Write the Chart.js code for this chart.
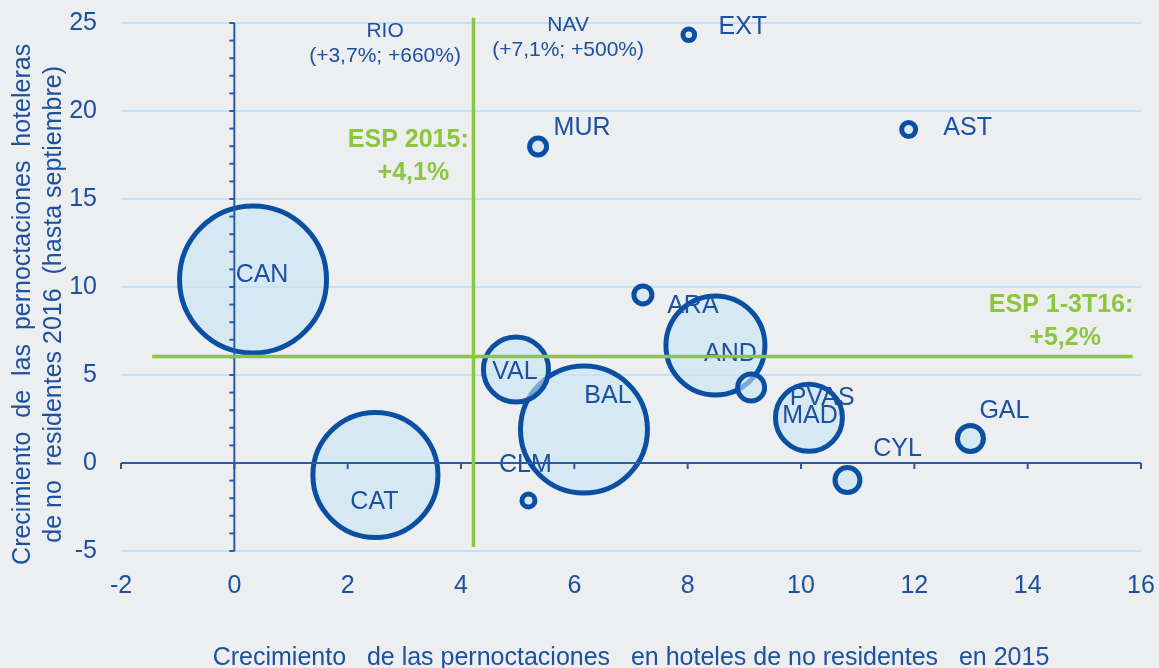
<!DOCTYPE html>
<html>
<head>
<meta charset="utf-8">
<script src="https://cdn.jsdelivr.net/npm/chart.js@4/dist/chart.umd.min.js"></script>
<style>
  html, body { margin: 0; padding: 0; background: #eceef0; }
  canvas { display: block; }
</style>
</head>
<body>
<canvas id="grafico" width="1159" height="668"></canvas>
<script>
// datos
const regiones = ['CAN', 'CAT', 'BAL', 'VAL', 'AND', 'PVAS', 'MAD', 'ARA', 'GAL', 'CYL', 'CLM', 'MUR', 'EXT', 'AST'];
const crec2015 = [0.33, 2.49, 6.17, 4.97, 8.49, 9.12, 10.14, 7.21, 12.99, 10.82, 5.19, 5.36, 8.02, 11.9];
const crec2016 = [10.43, -0.68, 1.9, 5.31, 6.68, 4.29, 2.57, 9.55, 1.39, -0.97, -2.13, 17.98, 24.33, 18.95];
const peso = [54.0, 39.1, 40.3, 10.6, 24.5, 1.82, 11.2, 0.81, 1.69, 1.56, 0.42, 0.72, 0.34, 0.49];
const ticksX = [-2, 0, 2, 4, 6, 8, 10, 12, 14, 16];
const ticksY = [-5, 0, 5, 10, 15, 20, 25];
const espanaX = 4.22;   // media España 2015
const espanaY = 6.05;   // media España 1-3T16
const fueraEscala = [
  { txt: ['RIO', '(+3,7%; +660%)'], x: 2.66, y: 24.55 },
  { txt: ['NAV', '(+7,1%; +500%)'], x: 5.89, y: 24.9 }
];

const AZUL = '#1c50a0';
const VERDE = '#8cc63f';
const FUENTE = '"Liberation Sans", Arial, sans-serif';

// desplazamiento de cada etiqueta respecto a su burbuja (px)
const desplaz = {
  CAN: [9, -4], CAT: [-1, 27], VAL: [-1, 3], BAL: [24, -33], AND: [15, 9],
  ARA: [50, 11], PVAS: [71, 11], MAD: [1, -2], GAL: [34, -27], CYL: [50, -31],
  CLM: [-3, -35], MUR: [44, -18], EXT: [54, -8], AST: [59, -1]
};

const ejes = {
  id: 'ejes',
  afterDatasetsDraw(chart) {
    const { ctx, scales: { x, y } } = chart;
    const x0 = x.getPixelForValue(0), y0 = y.getPixelForValue(0);
    const linea = (a, b, c, d) => { ctx.beginPath(); ctx.moveTo(a, b); ctx.lineTo(c, d); ctx.stroke(); };
    ctx.save();
    ctx.strokeStyle = '#2a5ca8';
    ctx.lineWidth = 2;
    linea(x.getPixelForValue(ticksX[0]), y0, x.getPixelForValue(ticksX[ticksX.length - 1]), y0);
    ticksX.forEach(v => { const p = x.getPixelForValue(v); linea(p, y0, p, y0 + 6); });
    linea(x0, y.getPixelForValue(ticksY[0]), x0, y.getPixelForValue(ticksY[ticksY.length - 1]));
    for (let v = ticksY[0]; v <= ticksY[ticksY.length - 1]; v++) {
      const p = y.getPixelForValue(v);
      linea(x0 - 5, p, x0, p);
    }
    // etiquetas de las burbujas
    ctx.fillStyle = AZUL;
    ctx.font = '25px ' + FUENTE;
    ctx.textAlign = 'center';
    ctx.textBaseline = 'middle';
    chart.getDatasetMeta(0).data.forEach((el, i) => {
      const d = desplaz[regiones[i]];
      ctx.fillText(regiones[i], el.x + d[0], el.y + d[1]);
    });
    ctx.font = '21px ' + FUENTE;
    fueraEscala.forEach(f => {
      const px = x.getPixelForValue(f.x), py = y.getPixelForValue(f.y);
      ctx.fillText(f.txt[0], px, py);
      ctx.fillText(f.txt[1], px, py + 25);
    });
    ctx.restore();
  },
  afterDraw(chart) {
    const { ctx, scales: { x, y } } = chart;
    ctx.save();
    ctx.strokeStyle = VERDE;
    ctx.lineWidth = 3.5;
    ctx.beginPath();
    ctx.moveTo(x.getPixelForValue(-1.45), y.getPixelForValue(espanaY));
    ctx.lineTo(x.getPixelForValue(15.85), y.getPixelForValue(espanaY));
    ctx.moveTo(x.getPixelForValue(espanaX), y.getPixelForValue(25.3));
    ctx.lineTo(x.getPixelForValue(espanaX), y.getPixelForValue(-4.77));
    ctx.stroke();
    ctx.fillStyle = VERDE;
    ctx.font = 'bold 25px ' + FUENTE;
    ctx.textAlign = 'center';
    ctx.textBaseline = 'middle';
    ctx.fillText('ESP 2015:', x.getPixelForValue(3.07), y.getPixelForValue(18.35));
    ctx.fillText('+4,1%', x.getPixelForValue(3.16), y.getPixelForValue(16.48));
    ctx.fillText('ESP 1-3T16:', x.getPixelForValue(14.59), y.getPixelForValue(8.98));
    ctx.fillText('+5,2%', x.getPixelForValue(14.66), y.getPixelForValue(7.1));
    ctx.restore();
  }
};

new Chart(document.getElementById('grafico'), {
  type: 'bubble',
  data: {
    datasets: [{
      data: regiones.map((r, i) => ({ x: crec2015[i], y: crec2016[i], r: 10 * Math.sqrt(peso[i]) })),
      backgroundColor: 'rgba(200, 228, 243, 0.6)',
      borderColor: '#0b4fa3',
      borderWidth: 5,
      hoverBorderWidth: 5,
      clip: false
    }]
  },
  options: {
    responsive: false,
    animation: false,
    layout: { autoPadding: false, padding: { top: 23, right: 18, bottom: 0, left: 0 } },
    plugins: { legend: { display: false }, tooltip: { enabled: false } },
    scales: {
      x: {
        type: 'linear', min: ticksX[0], max: ticksX[ticksX.length - 1],
        afterBuildTicks: s => { s.ticks = ticksX.map(v => ({ value: v })); },
        afterFit: s => { s.height = 117; s.paddingLeft = 0; s.paddingRight = 0; },
        grid: { display: false, drawTicks: false },
        border: { display: false },
        ticks: { color: AZUL, font: { family: FUENTE, size: 25 }, padding: 20 },
        title: {
          display: true,
          text: 'Crecimiento   de las pernoctaciones   en hoteles de no residentes   en 2015',
          color: AZUL, font: { family: FUENTE, size: 25, lineHeight: 0.76 },
          padding: { top: 0, bottom: 0 }
        }
      },
      y: {
        type: 'linear', min: ticksY[0], max: ticksY[ticksY.length - 1],
        afterBuildTicks: s => { s.ticks = ticksY.map(v => ({ value: v })); },
        afterFit: s => { s.width = 121; s.paddingTop = 0; s.paddingBottom = 0; },
        grid: { color: '#bee3f6', lineWidth: 2, drawTicks: false },
        border: { display: false },
        ticks: { color: AZUL, font: { family: FUENTE, size: 25 }, padding: 24 },
        title: {
          display: true,
          text: ['Crecimiento  de  las  pernoctaciones  hoteleras     ', 'de no  residentes 2016  (hasta septiembre)     '],
          color: AZUL, font: { family: FUENTE, size: 25, lineHeight: 1.25 },
          padding: { top: 7, bottom: 0 }
        }
      }
    }
  },
  plugins: [ejes]
});
</script>
</body>
</html>
